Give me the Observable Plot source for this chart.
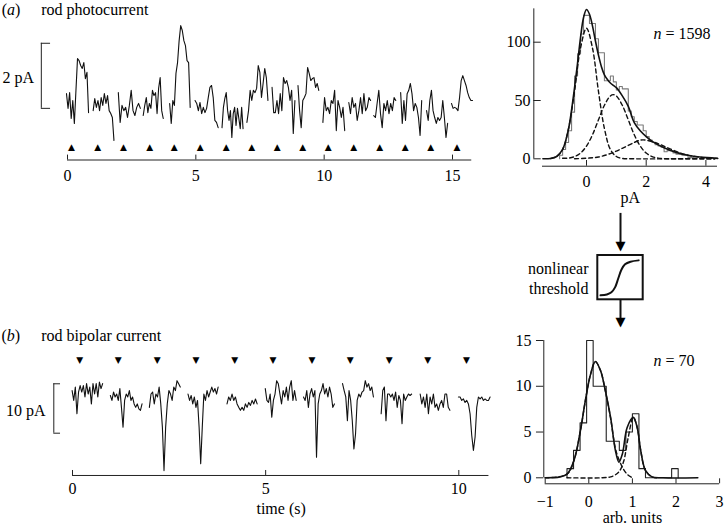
<!DOCTYPE html>
<html><head><meta charset="utf-8">
<script src="https://cdn.jsdelivr.net/npm/d3@7"></script>
<script src="https://cdn.jsdelivr.net/npm/@observablehq/plot@0.6"></script>
<style>
body{margin:0;background:#fff;}
#fig{position:relative;width:724px;height:527px;overflow:hidden;background:#fff;}
#fig svg{position:absolute;left:0;top:0;}
</style></head><body><div id="fig"></div>
<script>
// ---------- data: (a) rod photocurrent (pA), segments between flashes ----------
const rodSegStart = [-0.04,1.00,1.98,2.95,3.98,4.97,6.02,6.99,7.97,8.98,9.95,10.96,11.93,12.98,13.99,14.96];
const rodSegEnd   = [0.82,1.81,2.84,3.73,4.78,5.87,6.84,7.81,8.86,9.79,10.80,11.81,12.79,13.80,14.81,15.78];
const rodSegValues = [
 [0.21,-0.24,0.24,-0.55,0,-0.70,0.3,1.28,1.22,1.07,0.98,1.16,0.67,0.86,-0.37],
 [-0.31,0.06,-0.21,0,-0.31,0.09,-0.15,0.21,-0.09,0.15,-0.31,-0.40,-0.52,-1.22],
 [0.24,-0.67,-0.15,-0.31,-0.21,-0.52,-0.15,0.31,-0.31,-0.46,-0.21,-0.09,-0.24],
 [-0.46,-0.15,0.09,-0.37,-0.09,-0.24,0.31,0.15,0.24,-0.40,0.37,0.70,-0.31,-0.55],
 [-0.09,-0.70,0,-0.15,0.83,1.16,1.83,2.29,2.14,1.83,1.68,1.22,1.16,-0.21],
 [0,-0.09,-0.31,-0.06,-0.40,-0.21,-0.37,-0.24,0.09,0.40,0.46,0.09,-0.61,-0.67,-0.83],
 [-0.83,-0.21,0.06,0.24,-0.31,-0.61,-0.31,-1.13,-0.40,-0.21,-0.76,-0.24,-0.55,-0.86,-0.21,-0.86],
 [-0.67,-0.31,0.31,0,0.31,0.24,0.37,1.07,0.86,0.09,0.52,0.98,0.70,0],
 [0.40,-0.37,-0.37,0,-0.40,0.21,-0.31,0.70,0.52,0.61,0.40,0,0.31,-1.01,0],
 [0.46,-0.31,-0.83,0,0.09,0.21,1.01,0.83,0.61,0.67,0.70,0.40,0.52,0.31],
 [-0.67,0.09,-0.31,-0.21,-0.40,0,-0.09,0.31,-0.92,0,-0.21,-0.52,-0.21,-0.92],
 [-0.06,-0.40,0.09,-0.21,-0.09,-0.61,-0.31,0.09,-0.40,0.21,-0.31,-0.21,0.09,0],
 [-0.46,-0.52,-0.09,0.31,-0.40,-0.83,-0.09,-0.31,0,-0.40,-0.09,-0.31,0.09,0],
 [0.24,-0.70,0,-0.61,0.21,0.31,0.52,0.21,-0.31,-0.09,-0.21,-0.52,-1.07,0],
 [-0.31,-0.61,0,0.31,-0.31,-0.52,-0.70,-0.52,-0.61,-0.52,0,-0.52,-1.13,-0.70],
 [-0.09,-0.24,-0.21,-0.24,-0.31,0.09,0.61,0.76,0.61,0.46,0.24,0.09,0,0]
];
const flashA = [0.155,1.178,2.176,3.199,4.159,5.169,6.180,7.178,8.173,9.160,10.155,11.154,12.165,13.162,14.146,15.169];
const timeTicksA = [0,5,10,15];

// ---------- data: (b) rod bipolar current (pA) ----------
const bipSegStart = [-0.01,0.98,1.99,2.99,4.00,4.99,5.98,6.99,7.99,9.00,9.99];
const bipSegEnd   = [0.78,1.80,2.79,3.77,4.78,5.79,6.78,7.79,8.78,9.77,10.81];
const bipSegValues = [
 [1.0,-1.0,1.7,-3.7,0.7,2.0,0.7,2.0,-0.3,2.4,0.3,1.7,-1.7,2.4,0.3,2.4,-0.3,2.7,1.4,2.4],
 [0,-1.0,0.7,-0.3,0.3,-1.0,1.4,-2.4,-6.4,-1.0,0.3,-0.3,1.0,-1.0,-0.3,-1.7,-2.4,-1.7,-2.7,-3.0,-1.7],
 [-2.4,0.3,0.7,-1.7,0.3,-0.3,1.7,-1.7,-6.4,-15.2,-6.4,-1.7,1.0,0.3,-1.0,1.7,1.0,3.0,2.4,1.7],
 [0.3,-1.0,0,-1.7,-0.3,-2.4,-1.0,-6.4,-13.8,-6.4,0.3,-1.0,1.0,-0.3,0.7,1.7,0.7,1.4,0.3,1.7],
 [-1.7,-0.3,-1.0,0.3,-1.0,-0.3,-1.7,-2.4,-3.0,-2.4,-3.0,-1.7,-2.4,-1.4,-2.0,-1.0,-1.7,-0.7,-1.7],
 [1.4,-1.0,-1.4,0.3,-4.4,-1.0,0.3,3.0,2.4,0.3,-1.7,1.0,-0.3,1.7,-1.0,1.7,3.0,-1.0,1.0,-1.0],
 [-0.3,-1.0,1.0,-2.4,0.3,1.4,-0.3,1.0,-12.5,-1.7,0.3,1.0,2.4,0.3,1.4,-0.3,1.7,0.3,-2.4,-1.7],
 [2.4,1.0,-0.3,-5.1,1.0,-1.0,-5.1,-10.8,-7.8,-1.0,0.3,-0.3,0.7,1.0,3.0,1.7,2.4,1.0,1.7,-0.3],
 [-3.7,1.0,1.7,-5.1,0.3,0.3,-0.3,0.3,-1.0,0.7,-2.4,0,-1.0,-5.7,0.3,-1.0,-0.3,0.3,0,0.3],
 [0.3,-1.7,-0.3,-2.4,0.3,-3.7,-0.3,-1.7,0.3,-2.4,-1.7,-3.0,-1.7,-1.0,-2.4,0.3,0.3,-2.4,-3.0],
 [-0.3,-0.3,-1.0,-0.7,-1.4,-1.0,-1.7,-3.7,-8.1,-11.1,-8.4,-2.4,-0.3,-0.7,-0.3,-1.0,-0.7,-1.0,-1.0,-0.3]
];
const flashB = [0.189,1.182,2.190,3.199,4.197,5.190,6.199,7.189,8.198,9.198,10.196];
const timeTicksB = [0,5,10];

// ---------- data: (a) amplitude histogram (0.1 pA bins from -0.9 pA) ----------
const histAFirst = -0.9, histAWidth = 0.1;
const histACounts = [3,8,14,24,40,71,90,107,123,123,116,116,103,91,91,67,67,71,66,59,62,60,60,41,36,32,29,29,24,19,16,14,12,11,10,6,7,7,5,4,4,3,3,1,1];
const fitATotalX = [-1.46,-1.2,-1.0,-0.8,-0.6,-0.5,-0.4,-0.3,-0.2,-0.1,0,0.1,0.2,0.3,0.4,0.5,0.6,0.7,0.8,0.9,1.0,1.2,1.4,1.6,1.8,2.0,2.2,2.6,3.0,3.4,3.8,4.38];
const fitATotalY = [0,0.3,2,8,26,42,61,82,104,121,128,124,114,101,89,79,72,68,65,63,61,54,45,31,24,19,15,9.5,5.5,3,1.5,0.5];
const fitA1X = [-1.2,-1.0,-0.8,-0.6,-0.4,-0.2,0,0.2,0.4,0.6,0.8,1.0,1.2,1.6,4.3];
const fitA1Y = [0.3,2,8,26,58,95,112,95,58,26,8,2,0.3,0,0];
const fitA2X = [-0.8,-0.6,-0.4,-0.2,0,0.2,0.4,0.6,0.8,0.9,1.0,1.2,1.4,1.6,1.8,2.0,2.2,2.4,2.6,4.3];
const fitA2Y = [0.5,0.6,1.9,4.9,10.9,20.6,33.4,45.9,53.9,55,53.9,45.9,33.4,20.6,10.9,4.9,1.9,0.6,0.2,0];
const fitA3X = [-0.4,0,0.4,0.8,1.2,1.6,1.8,2.0,2.4,2.8,3.2,3.6,4.0,4.4];
const fitA3Y = [0,0.5,1.5,4.5,9,14,16,16,13,8.5,4.5,2,0.8,0.3];
const histATicksX = [0,2,4];
const histATicksY = [0,50,100];

// ---------- data: (b) histogram (arb. units, 0.15 bins) ----------
const histBStart = [-0.5,-0.35,-0.2,-0.05,0.1,0.25,0.4,0.55,0.7,0.85,1.0,1.15,1.3,1.45,1.6,1.75,1.9];
const histBWidth = 0.15;
const histBCounts = [1,3,6,15,10,10,4,4,3,5,7,1,0,0,0,0,1];
const fitBTotalX = [-1.0,-0.66,-0.5,-0.34,-0.19,-0.08,0.04,0.15,0.27,0.38,0.5,0.61,0.69,0.77,0.88,1.02,1.11,1.19,1.3,1.45,1.7,2.5];
const fitBTotalY = [0,0.1,0.4,1.9,5.2,8.4,11.3,12.7,11.7,9.5,6.6,3.0,1.7,2.6,5.5,6.6,5.5,3.0,0.8,0.1,0,0];
const fitB1X = [-1.0,-0.5,-0.34,-0.19,-0.08,0.04,0.15,0.27,0.38,0.5,0.61,0.7,0.8,0.9,1.0];
const fitB1Y = [0,0.4,1.9,5.2,8.4,11.3,12.7,11.7,9.5,6.5,3.2,1.9,0.9,0.3,0];
const fitB2X = [-0.5,0.3,0.5,0.6,0.7,0.8,0.9,1.02,1.11,1.19,1.3,1.45,1.6];
const fitB2Y = [0,0,0.1,0.3,0.7,1.8,4.3,6.6,5.5,3.0,0.8,0.1,0];
const histBTicksX = [-1,0,1,2,3];
const histBTicksY = [0,5,10,15];

// ---------- data: threshold sigmoid (box units) ----------
const sigX = [0.06,0.2,0.3,0.38,0.45,0.52,0.6,0.72,0.9];
const sigY = [0.10,0.12,0.17,0.28,0.48,0.68,0.8,0.86,0.89];

// ---------- build tables ----------
const segRows = (starts, ends, vals) => vals.flatMap((vs, s) => vs.map((v, i) => ({seg: s, t: starts[s] + (ends[s] - starts[s]) * i / (vs.length - 1), v})));
const rodRows = segRows(rodSegStart, rodSegEnd, rodSegValues);
const bipRows = segRows(bipSegStart, bipSegEnd, bipSegValues);
const zip = (xs, ys) => xs.map((x, i) => ({x, y: ys[i]}));
// histogram outline (staircase) from bin lower edges, width and counts
const stepRows = (starts, width, counts) => [
  {x: starts[0], c: 0},
  ...counts.map((c, i) => ({x: starts[i], c})),
  {x: starts[starts.length - 1] + width, c: counts[counts.length - 1]},
  {x: starts[starts.length - 1] + width, c: 0}
];
const histAStarts = histACounts.map((c, i) => histAFirst + i * histAWidth);
const histARows = stepRows(histAStarts, histAWidth, histACounts);
const histBRows = stepRows(histBStart, histBWidth, histBCounts);
const minus = d => String(d).replace("-", "\u2212");

const F = "'Liberation Serif', 'Times New Roman', serif";
const FS = 16;
const base = {width: 724, height: 527, margin: 0, style: "background: transparent; overflow: visible; font-family: 'Liberation Serif', serif;"};
const fig = document.getElementById("fig");
const T = (s, o) => Plot.text([s], {text: d => d, fontFamily: F, fontSize: FS, ...o});
const dash = {curve: "catmull-rom", stroke: "#111", strokeWidth: 1.4, strokeDasharray: "4,3"};

// ---------- (a) trace ----------
fig.appendChild(Plot.plot({...base,
  x: {domain: [0, 15], range: [67, 452], axis: null},
  y: {domain: [0, 2], range: [100, 34.6], axis: null},
  marks: [
    Plot.line(rodRows, {x: "t", y: "v", z: "seg", stroke: "#111", strokeWidth: 1.1}),
    Plot.text(flashA, {x: d => d, y: -1.44, text: () => "\u25B2", fontSize: 9, fontFamily: "DejaVu Sans"}),
    Plot.ruleY([-1.82], {x1: 0, x2: 15.75, stroke: "#222", strokeWidth: 1}),
    Plot.ruleX(timeTicksA, {y1: -1.82, y2: -1.67, stroke: "#222"}),
    Plot.text(timeTicksA, {x: d => d, y: -2.32, text: d => String(d), fontFamily: F, fontSize: FS}),
    Plot.ruleX([-1.02], {y1: -0.24, y2: 1.75, stroke: "#222"}),
    Plot.ruleY([-0.24, 1.75], {x1: -1.02, x2: -0.66, stroke: "#222"}),
    T("2 pA", {x: -1.30, y: 0.70, textAnchor: "end"}),
    T("(", {x: -2.565, y: 2.78, textAnchor: "start"}),
    T("a", {x: -2.359, y: 2.78, textAnchor: "start", fontStyle: "italic"}),
    T(")", {x: -2.048, y: 2.78, textAnchor: "start"}),
    T("rod photocurrent", {x: -1.022, y: 2.78, textAnchor: "start"})
  ]}));

// ---------- (b) trace ----------
fig.appendChild(Plot.plot({...base,
  x: {domain: [0, 10], range: [72, 458.3], axis: null},
  y: {domain: [0, 10], range: [395, 345.6], axis: null},
  marks: [
    Plot.line(bipRows, {x: "t", y: "v", z: "seg", stroke: "#111", strokeWidth: 1.1}),
    Plot.text(flashB, {x: d => d, y: 7.23, text: () => "\u25BC", fontSize: 9, fontFamily: "DejaVu Sans"}),
    Plot.ruleY([-16.19], {x1: 0, x2: 10.78, stroke: "#222"}),
    Plot.ruleX(timeTicksB, {y1: -16.19, y2: -15.18, stroke: "#222"}),
    Plot.text(timeTicksB, {x: d => d, y: -18.89, text: d => String(d), fontFamily: F, fontSize: FS}),
    T("time (s)", {x: 5.40, y: -22.87}),
    Plot.ruleX([-0.484], {y1: -7.63, y2: 2.37, stroke: "#222"}),
    Plot.ruleY([-7.63, 2.37], {x1: -0.484, x2: -0.31, stroke: "#222"}),
    T("10 pA", {x: -0.698, y: -3.04, textAnchor: "end"}),
    T("(", {x: -1.836, y: 12.15, textAnchor: "start"}),
    T("b", {x: -1.699, y: 12.15, textAnchor: "start", fontStyle: "italic"}),
    T(")", {x: -1.492, y: 12.15, textAnchor: "start"}),
    T("rod bipolar current", {x: -0.809, y: 12.15, textAnchor: "start"})
  ]}));

// ---------- (a) histogram ----------
fig.appendChild(Plot.plot({...base,
  x: {domain: [0, 4], range: [586, 705.4], axis: null},
  y: {domain: [0, 100], range: [158.3, 41.7], axis: null},
  marks: [
    Plot.line(histARows, {x: "x", y: "c", curve: "step-after", stroke: "#7a7a7a", strokeWidth: 1.1}),
    Plot.line(zip(fitA1X, fitA1Y), {x: "x", y: "y", ...dash}),
    Plot.line(zip(fitA2X, fitA2Y), {x: "x", y: "y", ...dash}),
    Plot.line(zip(fitA3X, fitA3Y), {x: "x", y: "y", ...dash}),
    Plot.line(zip(fitATotalX, fitATotalY), {x: "x", y: "y", curve: "catmull-rom", stroke: "#111", strokeWidth: 1.6}),
    Plot.ruleX([-1.765], {y1: 0, y2: 128.6, stroke: "#222"}),
    Plot.ruleY(histATicksY, {x1: -1.765, x2: -1.518, stroke: "#222"}),
    Plot.text(histATicksY, {x: -1.876, y: d => d, text: d => String(d), textAnchor: "end", fontFamily: F, fontSize: FS}),
    Plot.ruleY([-6.35], {x1: -1.474, x2: 4.389, stroke: "#222"}),
    Plot.ruleX(histATicksX, {y1: -6.35, y2: -1.46, stroke: "#222"}),
    Plot.text(histATicksX, {x: d => d, y: -19.47, text: d => String(d), fontFamily: F, fontSize: FS}),
    T("pA", {x: 1.47, y: -33.2}),
    T("n", {x: 2.245, y: 107.5, textAnchor: "start", fontStyle: "italic"}),
    T("= 1598", {x: 2.647, y: 107.5, textAnchor: "start"})
  ]}));

// ---------- (b) histogram ----------
fig.appendChild(Plot.plot({...base,
  x: {domain: [0, 1], range: [588.3, 631.9], axis: null},
  y: {domain: [0, 15], range: [477.3, 340], axis: null},
  marks: [
    Plot.line(histBRows, {x: "x", y: "c", curve: "step-after", stroke: "#222", strokeWidth: 1.1}),
    Plot.line(zip(fitB1X, fitB1Y), {x: "x", y: "y", ...dash}),
    Plot.line(zip(fitB2X, fitB2Y), {x: "x", y: "y", ...dash}),
    Plot.line(zip(fitBTotalX, fitBTotalY), {x: "x", y: "y", curve: "catmull-rom", stroke: "#111", strokeWidth: 1.6}),
    Plot.ruleX([-1.032], {y1: 0, y2: 15, stroke: "#222"}),
    Plot.ruleY(histBTicksY, {x1: -1.2, x2: -1.032, stroke: "#222"}),
    Plot.text(histBTicksY, {x: -1.314, y: d => d, text: d => String(d), textAnchor: "end", fontFamily: F, fontSize: FS}),
    Plot.ruleY([-0.654], {x1: -1, x2: 3, stroke: "#222"}),
    Plot.ruleX(histBTicksX, {y1: -0.654, y2: -0.109, stroke: "#222"}),
    Plot.text(histBTicksX, {x: d => d, y: -2.66, text: minus, fontFamily: F, fontSize: FS}),
    T("arb. units", {x: 1.0, y: -4.40}),
    T("n", {x: 1.484, y: 12.79, textAnchor: "start", fontStyle: "italic"}),
    T("= 70", {x: 1.759, y: 12.79, textAnchor: "start"})
  ]}));

// ---------- nonlinear threshold box ----------
fig.appendChild(Plot.plot({...base,
  x: {domain: [0, 1], range: [597.3, 642.7], axis: null},
  y: {domain: [0, 1], range: [299.3, 255], axis: null},
  marks: [
    Plot.rect([0], {x1: 0, x2: 1, y1: 0, y2: 1, fill: "none", stroke: "#111", strokeWidth: 2}),
    Plot.line(zip(sigX, sigY), {x: "x", y: "y", curve: "catmull-rom", stroke: "#111", strokeWidth: 2}),
    Plot.ruleX([0.5], {y1: 1.95, y2: 1.25, stroke: "#111", strokeWidth: 2}),
    Plot.text([0], {x: 0.5, y: 1.22, text: () => "\u25BC", fontSize: 13, fontFamily: "DejaVu Sans"}),
    Plot.ruleX([0.5], {y1: 0, y2: -0.45, stroke: "#111", strokeWidth: 2}),
    Plot.text([0], {x: 0.5, y: -0.5, text: () => "\u25BC", fontSize: 13, fontFamily: "DejaVu Sans"}),
    T("nonlinear", {x: -0.205, y: 0.707, textAnchor: "end"}),
    T("threshold", {x: -0.205, y: 0.255, textAnchor: "end"})
  ]}));
</script></body></html>
